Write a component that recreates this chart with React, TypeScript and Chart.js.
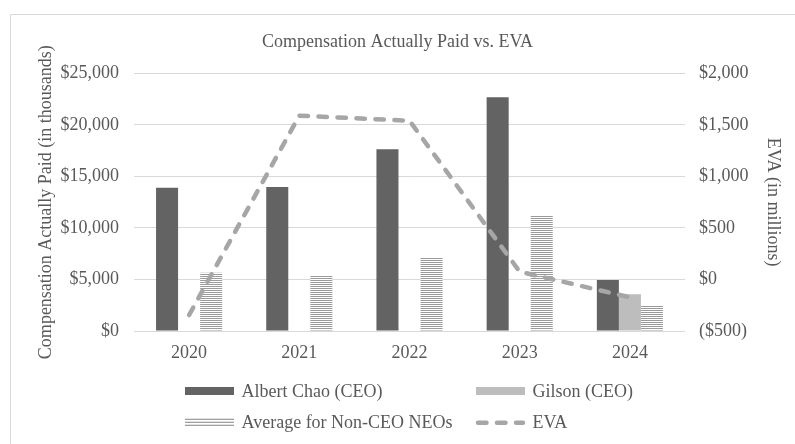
import React, { useEffect, useRef } from "react";
import { Chart, registerables } from "chart.js";

Chart.register(...registerables);

const years = ["2020", "2021", "2022", "2023", "2024"];
const albertChao = [13900, 13970, 17630, 22670, 4950];
const gilson = [null, null, null, null, 3560];
const nonCeoAvg = [5660, 5340, 7150, 11220, 2520];
const eva = [-345, 1589, 1540, 75, -173];

const seriesNames = ["Albert Chao (CEO)", "Gilson (CEO)", "Average for Non-CEO NEOs", "EVA"];
const chartTitle = "Compensation Actually Paid vs. EVA";
const leftAxisTitle = "Compensation Actually Paid (in thousands)";
const rightAxisTitle = "EVA (in millions)";

const FONT = "'Liberation Serif', 'Times New Roman', serif";
const TEXT = "#595959";
const DARK = "#636363";
const LIGHT = "#bdbdbd";
const LINE = "#a6a6a6";
const GRID = "#d9d9d9";

function makeHatch(): CanvasPattern | string {
  const c = document.createElement("canvas");
  c.width = 4;
  c.height = 2;
  const g = c.getContext("2d");
  if (!g) return "#cccccc";
  g.fillStyle = "#ffffff";
  g.fillRect(0, 0, 4, 2);
  g.fillStyle = "#9a9a9a";
  g.fillRect(0, 0, 4, 1);
  return g.createPattern(c, "repeat") || "#cccccc";
}

function money(v: number): string {
  const s = "$" + Math.abs(v).toLocaleString("en-US");
  return v < 0 ? "(" + s + ")" : s;
}

export default function App() {
  const ref = useRef<HTMLCanvasElement | null>(null);

  useEffect(() => {
    document.body.style.margin = "0";
    const canvas = ref.current;
    if (!canvas) return;
    const hatch = makeHatch();

    const frame = {
      id: "frame",
      beforeDraw(chart: any) {
        const ctx = chart.ctx;
        ctx.save();
        ctx.fillStyle = "#ffffff";
        ctx.fillRect(0, 0, chart.width, chart.height);
        ctx.strokeStyle = GRID;
        ctx.lineWidth = 1;
        ctx.beginPath();
        ctx.moveTo(10.5, chart.height + 2);
        ctx.lineTo(10.5, 14.5);
        ctx.lineTo(chart.width + 2, 14.5);
        ctx.stroke();
        ctx.restore();
      },
    };

    const gridLegend = {
      id: "gridLegend",
      afterDraw(chart: any) {
        const ctx = chart.ctx;
        const a = chart.chartArea;
        const rows = [a.bottom + 60, a.bottom + 91.7];
        const cols = [a.left + 51, a.left + 342];
        const items = [
          { kind: "box", fill: DARK },
          { kind: "box", fill: LIGHT },
          { kind: "hatch" },
          { kind: "dash" },
        ];
        ctx.save();
        ctx.font = "18px " + FONT;
        ctx.textBaseline = "middle";
        ctx.textAlign = "left";
        items.forEach((it, i) => {
          const x = cols[i % 2];
          const y = rows[Math.floor(i / 2)];
          if (it.kind === "box") {
            ctx.fillStyle = it.fill;
            ctx.fillRect(x, y - 4, 49, 8);
          } else if (it.kind === "hatch") {
            ctx.fillStyle = "#a0a0a0";
            for (let k = 0; k < 3; k++) ctx.fillRect(x, y - 4 + k * 3, 49, 1.3);
          } else {
            ctx.strokeStyle = LINE;
            ctx.lineWidth = 4.5;
            ctx.lineCap = "round";
            ctx.setLineDash([8.5, 10.5]);
            ctx.beginPath();
            ctx.moveTo(x + 2, y);
            ctx.lineTo(x + 47, y);
            ctx.stroke();
            ctx.setLineDash([]);
          }
          ctx.fillStyle = TEXT;
          ctx.fillText(seriesNames[i], x + 56.5, y + 1);
        });
        ctx.restore();
      },
    };

    const chart = new Chart(canvas, {
      type: "bar",
      data: {
        labels: years,
        datasets: [
          {
            type: "bar",
            label: seriesNames[0],
            data: albertChao,
            backgroundColor: DARK,
            yAxisID: "y",
            order: 1,
          },
          {
            type: "bar",
            label: seriesNames[1],
            data: gilson,
            backgroundColor: LIGHT,
            yAxisID: "y",
            order: 1,
          },
          {
            type: "bar",
            label: seriesNames[2],
            data: nonCeoAvg,
            backgroundColor: hatch as any,
            yAxisID: "y",
            order: 1,
          },
          {
            type: "line",
            label: seriesNames[3],
            data: eva,
            borderColor: LINE,
            backgroundColor: LINE,
            borderWidth: 4.5,
            borderDash: [8.5, 10.5],
            borderCapStyle: "round",
            borderJoinStyle: "round",
            pointRadius: 0,
            tension: 0,
            yAxisID: "y1",
            order: 0,
          } as any,
        ],
      },
      options: {
        responsive: false,
        animation: false,
        devicePixelRatio: 1,
        layout: { padding: 0 },
        datasets: {
          bar: { categoryPercentage: 0.6, barPercentage: 1.0 },
        },
        plugins: {
          legend: { display: false },
          tooltip: { enabled: false },
          title: {
            display: true,
            text: chartTitle,
            color: TEXT,
            font: { family: FONT, size: 18, weight: "normal" },
            padding: { top: 31.2, bottom: 20.5 },
          },
        },
        scales: {
          x: {
            grid: { display: false, drawTicks: false },
            border: { display: false },
            ticks: {
              color: TEXT,
              font: { family: FONT, size: 18 },
              padding: 11,
            },
            afterFit(scale: any) {
              scale.height = 113;
            },
          },
          y: {
            position: "left",
            min: 0,
            max: 25000,
            grid: { color: GRID, lineWidth: 1, drawTicks: false },
            border: { display: false },
            ticks: {
              stepSize: 5000,
              color: TEXT,
              font: { family: FONT, size: 18 },
              padding: 15,
              callback: (v: any) => money(Number(v)),
            },
            title: {
              display: true,
              text: leftAxisTitle,
              color: TEXT,
              font: { family: FONT, size: 18 },
              padding: { top: 35.7, bottom: 0 },
            },
            afterFit(scale: any) {
              scale.width = 134;
            },
          },
          y1: {
            position: "right",
            min: -500,
            max: 2000,
            grid: { display: false, drawTicks: false },
            border: { display: false },
            ticks: {
              stepSize: 500,
              color: TEXT,
              font: { family: FONT, size: 18 },
              padding: 14,
              callback: (v: any) => money(Number(v)),
            },
            title: {
              display: true,
              text: rightAxisTitle,
              color: TEXT,
              font: { family: FONT, size: 18 },
              padding: { top: 11.2, bottom: 0 },
            },
            afterFit(scale: any) {
              scale.width = 110;
            },
          },
        },
      } as any,
      plugins: [frame, gridLegend],
    });

    return () => chart.destroy();
  }, []);

  return (
    <div style={{ width: 795, height: 444 }}>
      <canvas ref={ref} width={795} height={444} style={{ display: "block" }} />
    </div>
  );
}
